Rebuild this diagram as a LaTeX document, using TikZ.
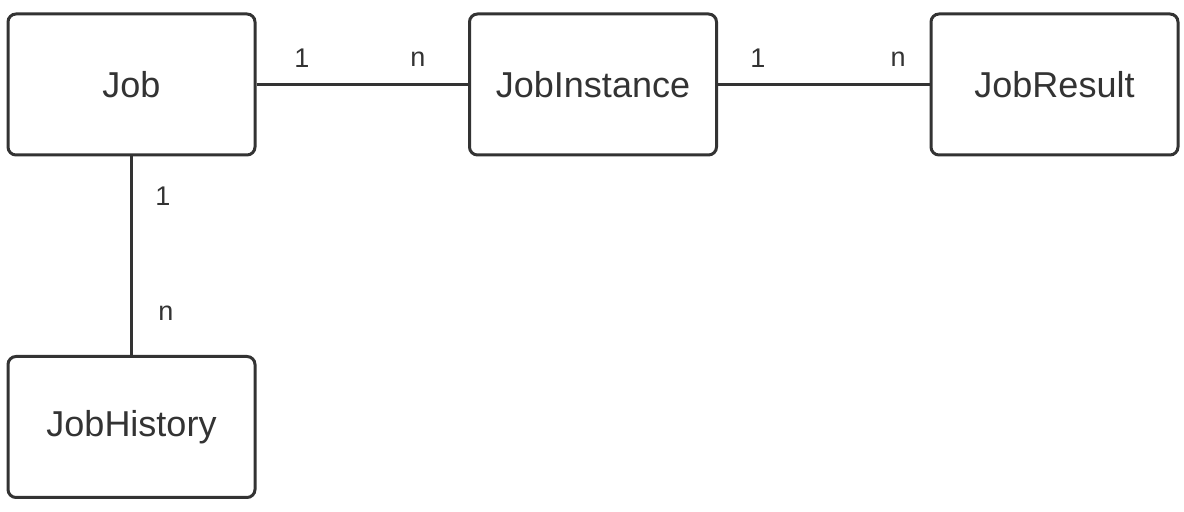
\documentclass[tikz,border=0pt]{standalone}
\usepackage{fontspec}
\setmainfont{Liberation Sans}
\definecolor{ink}{HTML}{333333}
\begin{document}
\begin{tikzpicture}[x=0.5pt,y=-0.5pt,
  entity/.style={draw=ink, line width=1.5pt, rounded corners=4pt, fill=white,
    minimum width=123.5pt, minimum height=70.5pt, inner sep=0pt,
    text=ink, font=\fontsize{18}{21}\selectfont},
  link/.style={draw=ink, line width=1.5pt},
  mult/.style={text=ink, font=\fontsize{13.5}{16}\selectfont, inner sep=0pt}]
\useasboundingbox[fill=white] (0,0) rectangle (1184,512);
\node[entity] (job) at (131.5,84.5) {Job};
\node[entity] (inst) at (593,84.5) {JobInstance};
\node[entity] (res) at (1054.5,84.5) {JobResult};
\node[entity] (hist) at (131.5,427) {JobHistory};
\draw[link] (job) -- (inst);
\draw[link] (inst) -- (res);
\draw[link] (job) -- (hist);
\node[mult] (m1) at (302,58) {1};
\node[mult] (m2) at (418,59) {n};
\node[mult] (m3) at (758,58) {1};
\node[mult] (m4) at (898,59) {n};
\node[mult] (m5) at (163,196) {1};
\node[mult] (m6) at (166,313) {n};
\end{tikzpicture}
\end{document}
